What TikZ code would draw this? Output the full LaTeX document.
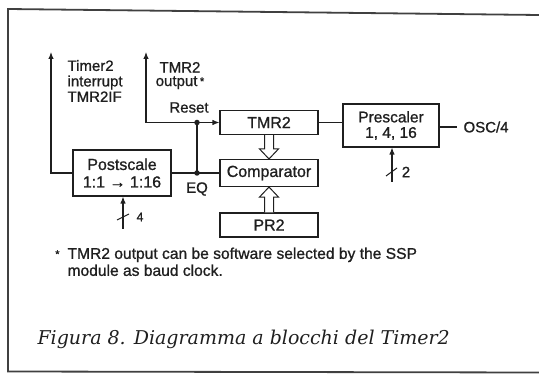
\documentclass[tikz,border=0pt]{standalone}
\usepackage{fontspec}
\newfontfamily\diagfont[FakeBold=1]{Liberation Sans}
\newfontfamily\capfont{DejaVu Serif}
\usetikzlibrary{arrows.meta,calc}
\definecolor{ink}{gray}{0.12}
\begin{document}
\begin{tikzpicture}[x=1pt,y=-1pt, line width=1.1pt, draw=ink, text=ink,
  box/.style={draw, line width=1.1pt, inner sep=0pt, align=center,
    font=\diagfont\fontsize{16}{17.5}\selectfont},
  lbl/.style={inner sep=0pt, align=left, font=\diagfont\fontsize{15}{15.5}\selectfont},
  tip/.style={-{Latex[length=7pt,width=5.5pt]}},
  dotnode/.style={circle, fill=ink, inner sep=0pt, minimum size=5.5pt},
  hollow/.style={line width=1pt, fill=white}]
\useasboundingbox (0,0) rectangle (539,374);

% frame
\draw[line width=1.8pt, draw=black!75] (539,15) -- (8,9) -- (8,371.5) -- (539,372.5);

% blocks
\node[box, minimum width=98pt, minimum height=24pt] (tmr) at (269,122.5) {TMR2};
\node[box, minimum width=98pt, minimum height=27pt] (cmp) at (269,173) {Comparator};
\node[box, minimum width=98pt, minimum height=24pt] (pr) at (269,225) {PR2};
\node[box, minimum width=98pt, minimum height=46pt] (post) at (122,173) {Postscale\\1:1 → 1:16};
\node[box, minimum width=96pt, minimum height=43pt, font=\diagfont\fontsize{15.5}{15.5}\selectfont] (pre) at (391,125.5) {Prescaler\\1, 4, 16};

% labels
\node[lbl, anchor=north west] (tlab) at (67,59.5) {Timer2\\interrupt\\TMR2IF};
\node[lbl, anchor=north, align=center, font=\diagfont\fontsize{15}{13.5}\selectfont] (olab) at (180,61.5) {TMR2\\output\,\raisebox{1pt}{\fontsize{11}{11}\selectfont*}};
\node[lbl] (rlab) at (189,107.5) {Reset};
\node[lbl] (eqlab) at (197,189) {EQ};
\node[lbl, anchor=west, inner xsep=6pt] (osc) at (457,127) {OSC/4};
\node[lbl, font=\diagfont\fontsize{15}{15}\selectfont] (two) at (406,172) {2};
\node[lbl, font=\diagfont\fontsize{12.5}{12.5}\selectfont] (four) at (140,217) {4};

% junctions and free ends
\node[dotnode] (rd) at (197,122.5) {};
\node[dotnode] (eqd) at (197,173) {};
\coordinate (tifend) at (51,52);
\coordinate (toutend) at (146,52);
\coordinate (prein) at (392,182);
\coordinate (postin) at (123,229);

% connectors
\draw[tip] (post.west) -| (tifend);
\draw[tip] (rd.center) -| (toutend);
\draw[tip] (rd.center) -- (tmr.west);
\draw (rd.center) -- (eqd.center);
\draw (post.east) -- (cmp.west);
\draw (tmr.east) -- (tmr.east -| pre.west);
\draw (pre.east |- osc.west) -- (osc.west);
\draw[tip] (prein) -- (prein |- pre.south);
\draw[tip] (postin) -- (postin |- post.south);
% bus-width ticks
\draw[line width=1pt] ($(prein)+(-6,-6)$) -- ($(prein)+(5,-14)$);
\draw[line width=1pt] ($(postin)+(-6,-9)$) -- ($(postin)+(6,-15)$);

% hollow bus arrows
\draw[hollow] ($(tmr.south)+(-4.5,0)$) -- ($(cmp.north)+(-4.5,-10)$) -- ($(cmp.north)+(-9.5,-10)$)
  -- (cmp.north) -- ($(cmp.north)+(9.5,-10)$) -- ($(cmp.north)+(4.5,-10)$) -- ($(tmr.south)+(4.5,0)$);
\draw[hollow] ($(pr.north)+(-4.5,0)$) -- ($(cmp.south)+(-4.5,10)$) -- ($(cmp.south)+(-9.5,10)$)
  -- (cmp.south) -- ($(cmp.south)+(9.5,10)$) -- ($(cmp.south)+(4.5,10)$) -- ($(pr.north)+(4.5,0)$);

% footnote
\node[lbl, anchor=north west, font=\diagfont\fontsize{15.6}{17}\selectfont] (note) at (67,247)
  {\llap{\raisebox{1pt}{\fontsize{11}{11}\selectfont*}\hspace{8pt}}TMR2 output can be software selected by the SSP\\module as baud clock.};

% caption
\node[inner sep=0pt, anchor=base west, font=\capfont\fontsize{19}{22}\selectfont\itshape] (cap) at (37,345)
  {Figura 8. Diagramma a blocchi del Timer2};
\end{tikzpicture}
\end{document}
